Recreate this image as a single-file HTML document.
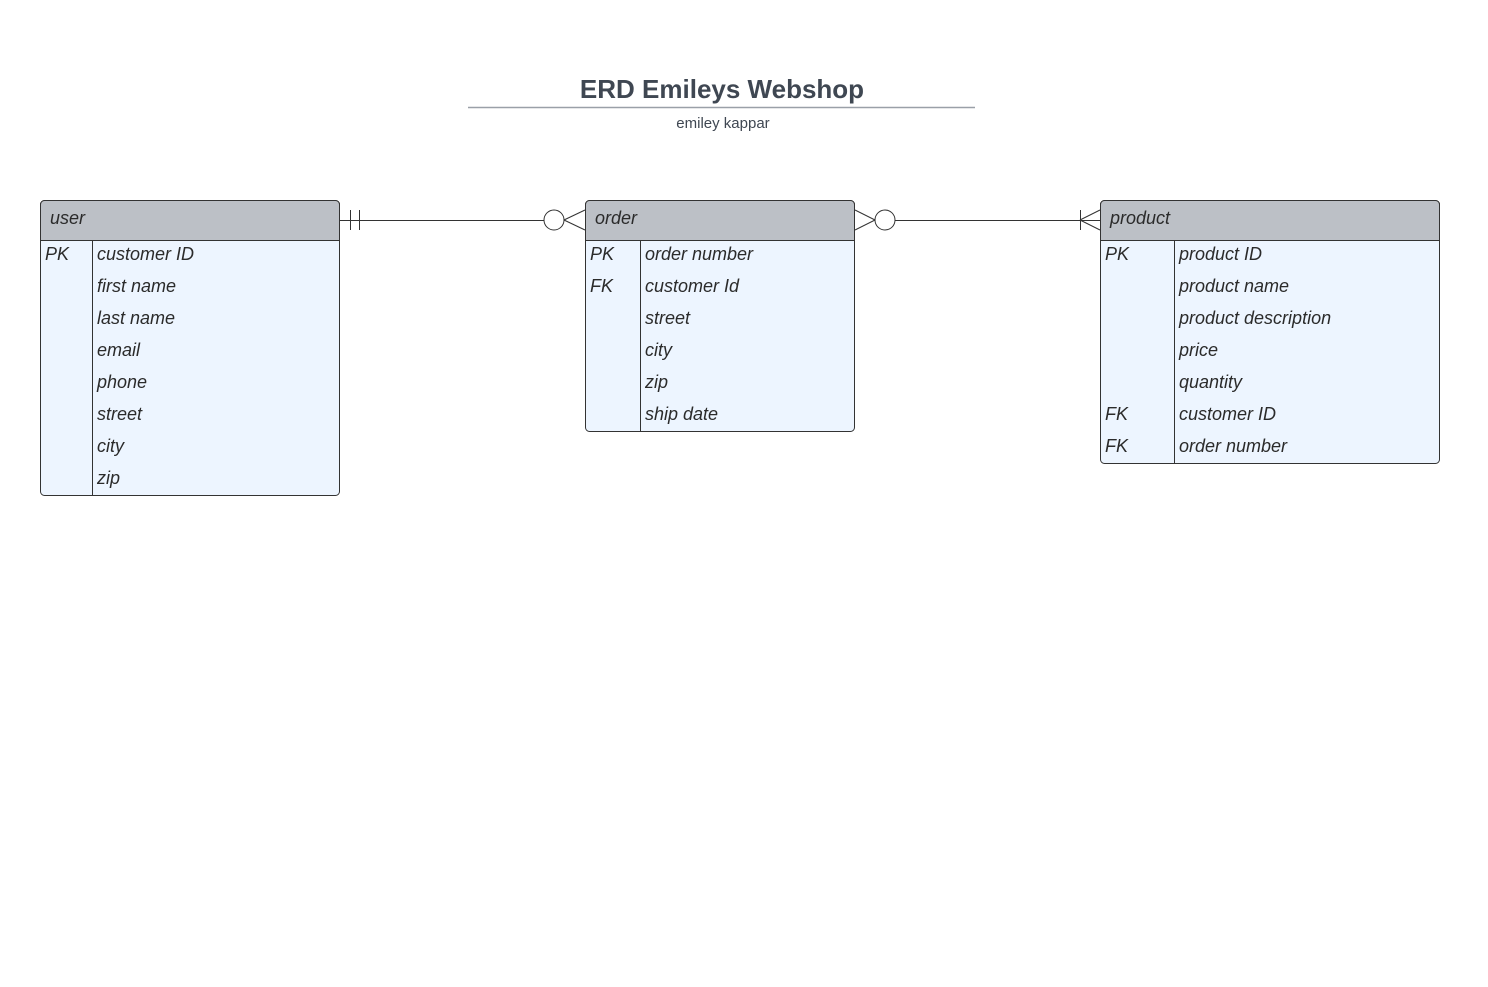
<!DOCTYPE html>
<html><head><style>body{margin:0;background:#fff}</style></head><body>
<svg width="1488" height="982" xmlns="http://www.w3.org/2000/svg" font-family="Liberation Sans, sans-serif">
<rect width="1488" height="982" fill="#fff"/>
<text x="722" y="98" text-anchor="middle" font-size="26" font-weight="bold" fill="#3f4752">ERD Emileys Webshop</text>
<line x1="468" y1="107.5" x2="975" y2="107.5" stroke="#9aa0a8" stroke-width="1.5"/>
<text x="723" y="128" text-anchor="middle" font-size="15" fill="#3f4752">emiley kappar</text>
<g stroke="#333" stroke-width="1" fill="none">
<line x1="340" y1="220.5" x2="545" y2="220.5"/>
<line x1="350.5" y1="210" x2="350.5" y2="230"/><line x1="359.5" y1="210" x2="359.5" y2="230"/>
<circle cx="554" cy="220" r="10" fill="#fff"/>
<line x1="564" y1="220" x2="585" y2="210"/><line x1="564" y1="220" x2="585" y2="230"/>
<line x1="855" y1="210" x2="875" y2="220"/><line x1="855" y1="230" x2="875" y2="220"/>
<circle cx="885" cy="220" r="10" fill="#fff"/>
<line x1="895" y1="220.5" x2="1100" y2="220.5"/>
<line x1="1080.5" y1="210" x2="1080.5" y2="230"/>
<line x1="1080" y1="220" x2="1100" y2="210"/><line x1="1080" y1="220" x2="1100" y2="230"/>
</g>
<g font-size="18" font-style="italic" fill="#2b2b2b">
<rect x="40.5" y="200.5" width="299" height="295" rx="4" fill="#edf5ff" stroke="#333"/>
<path d="M40.5 240.5 V204.5 a4 4 0 0 1 4 -4 H335.5 a4 4 0 0 1 4 4 V240.5 Z" fill="#bcc0c6" stroke="#333"/>
<line x1="92.5" y1="240" x2="92.5" y2="495" stroke="#333"/>
<text x="50" y="224">user</text>
<text x="45" y="260">PK</text>
<text x="97" y="260">customer ID</text><text x="97" y="292">first name</text><text x="97" y="324">last name</text><text x="97" y="356">email</text><text x="97" y="388">phone</text><text x="97" y="420">street</text><text x="97" y="452">city</text><text x="97" y="484">zip</text>
<rect x="585.5" y="200.5" width="269" height="231" rx="4" fill="#edf5ff" stroke="#333"/>
<path d="M585.5 240.5 V204.5 a4 4 0 0 1 4 -4 H850.5 a4 4 0 0 1 4 4 V240.5 Z" fill="#bcc0c6" stroke="#333"/>
<line x1="640.5" y1="240" x2="640.5" y2="431" stroke="#333"/>
<text x="595" y="224">order</text>
<text x="590" y="260">PK</text><text x="590" y="292">FK</text>
<text x="645" y="260">order number</text><text x="645" y="292">customer Id</text><text x="645" y="324">street</text><text x="645" y="356">city</text><text x="645" y="388">zip</text><text x="645" y="420">ship date</text>
<rect x="1100.5" y="200.5" width="339" height="263" rx="4" fill="#edf5ff" stroke="#333"/>
<path d="M1100.5 240.5 V204.5 a4 4 0 0 1 4 -4 H1435.5 a4 4 0 0 1 4 4 V240.5 Z" fill="#bcc0c6" stroke="#333"/>
<line x1="1174.5" y1="240" x2="1174.5" y2="463" stroke="#333"/>
<text x="1110" y="224">product</text>
<text x="1105" y="260">PK</text><text x="1105" y="420">FK</text><text x="1105" y="452">FK</text>
<text x="1179" y="260">product ID</text><text x="1179" y="292">product name</text><text x="1179" y="324">product description</text><text x="1179" y="356">price</text><text x="1179" y="388">quantity</text><text x="1179" y="420">customer ID</text><text x="1179" y="452">order number</text>
</g>
</svg>
</body></html>
